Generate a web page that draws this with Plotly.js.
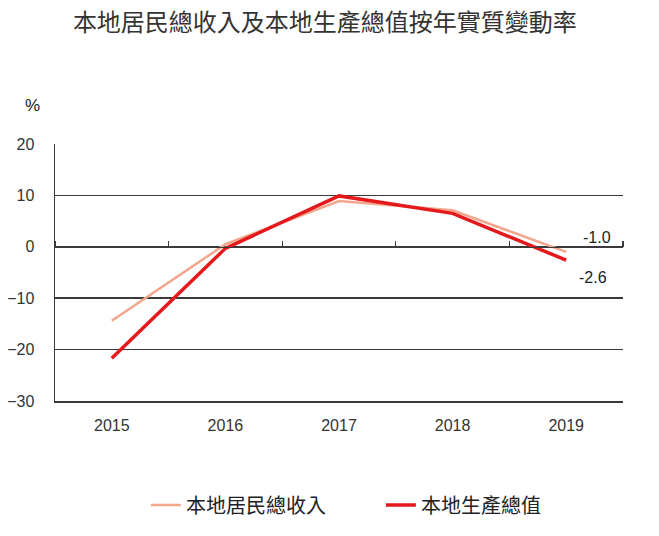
<!DOCTYPE html>
<html><head><meta charset="utf-8">
<script src="https://cdn.plot.ly/plotly-3.0.1.min.js"></script>
<style>html,body{margin:0;padding:0;background:#fff;}#chart{width:659px;height:536px;}</style>
</head><body><div id="chart"></div>
<script>
const years = ['2015','2016','2017','2018','2019'];
const gniValues = [-14.4, 0.5, 8.9, 7.1, -1.0];
const gdpValues = [-21.7, -0.3, 9.9, 6.5, -2.6];
const seriesNames = ['本地居民總收入', '本地生產總值'];
const titleText = '本地居民總收入及本地生產總值按年實質變動率';
const yTicks = [-30, -20, -10, 0, 10, 20];

const FONT = 'Liberation Sans, Arial, "Noto Sans CJK TC", sans-serif';
const GRID = '#3a3a3a';
const last = years.length - 1;

const traces = [
  {x: years, y: gniValues, name: seriesNames[0], type: 'scatter', mode: 'lines',
   line: {color: '#F4A68C', width: 2.5}, hoverinfo: 'skip'},
  {x: years, y: gdpValues, name: seriesNames[1], type: 'scatter', mode: 'lines',
   line: {color: '#E3191C', width: 3.5}, hoverinfo: 'skip'},
  {x: years, y: gdpValues, xaxis: 'x2', yaxis: 'y', type: 'scatter', mode: 'none',
   showlegend: false, hoverinfo: 'skip'}
];

const layout = {
  width: 659, height: 536,
  margin: {l: 55, r: 36, t: 144, b: 135},
  paper_bgcolor: '#fff', plot_bgcolor: '#fff',
  font: {family: FONT, color: '#333', size: 16},
  title: {text: titleText, x: 0.493, xref: 'container', xanchor: 'center',
          y: 1 - 23/536, yref: 'container', yanchor: 'middle',
          font: {family: '"Noto Sans CJK TC", sans-serif', size: 24, color: '#333'}},
  xaxis: {type: 'category', range: [-0.5, 4.5], showgrid: false, zeroline: false,
          showline: true, linecolor: GRID, linewidth: 1.5, ticks: '',
          ticklabelstandoff: 9, tickfont: {size: 16, color: '#333'}, fixedrange: true},
  xaxis2: {type: 'category', range: [-0.5, 4.5], overlaying: 'x', anchor: 'free',
           position: 0.6, side: 'top', showgrid: false, zeroline: false,
           showline: true, linecolor: GRID, linewidth: 1.5, ticks: 'outside',
           tickson: 'boundaries', ticklen: 6, tickcolor: GRID, tickwidth: 1.2,
           showticklabels: false},
  yaxis: {range: [-30, 20], tickvals: yTicks, showgrid: true, gridcolor: GRID,
          gridwidth: 1.5, zeroline: false, showline: true, linecolor: GRID,
          linewidth: 1.5, ticks: '', ticklabelstandoff: 16,
          tickfont: {size: 16, color: '#333'}, fixedrange: true},
  showlegend: true,
  legend: {orientation: 'h', x: 0.160, xanchor: 'left', y: -0.405, yanchor: 'middle',
           font: {family: '"Noto Sans CJK TC", sans-serif', size: 20, color: '#222'},
           entrywidth: 190, traceorder: 'normal'},
  annotations: [
    {x: last, y: gniValues[last], xref: 'x', yref: 'y',
     text: gniValues[last].toFixed(1), showarrow: false, xshift: 31, yshift: 14,
     font: {size: 16, color: '#222'}},
    {x: last, y: gdpValues[last], xref: 'x', yref: 'y',
     text: gdpValues[last].toFixed(1), showarrow: false, xshift: 27, yshift: -17,
     font: {size: 16, color: '#222'}},
    {x: -23/568, y: 1 + 39/257, xref: 'paper', yref: 'paper', text: '%',
     showarrow: false, xanchor: 'center', yanchor: 'middle',
     font: {size: 17, color: '#222'}}
  ]
};

Plotly.newPlot('chart', traces, layout, {displayModeBar: false, staticPlot: true});
</script></body></html>
